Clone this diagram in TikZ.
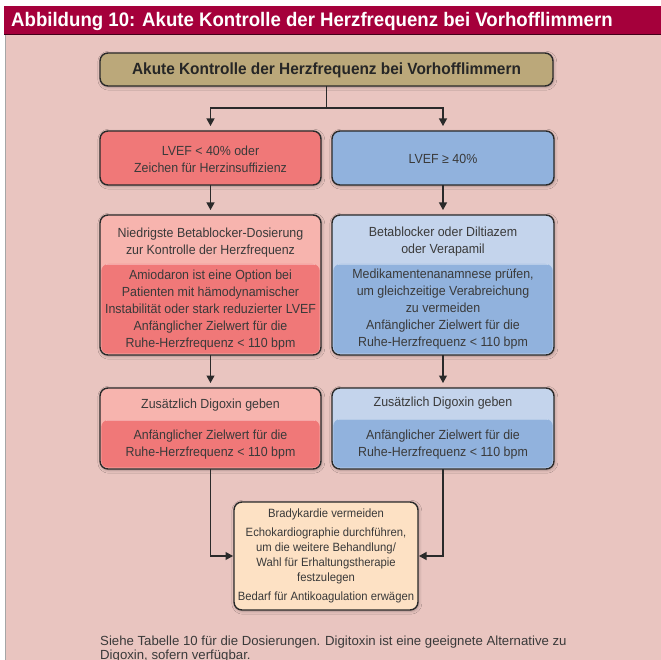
\documentclass[tikz,border=0pt]{standalone}
\usepackage{fontspec}
\setmainfont{Liberation Sans}
\newfontfamily\condfont{Liberation Sans}[FakeStretch=0.95]
\newfontfamily\bodyfont{Liberation Sans}[FakeStretch=0.94]
\usetikzlibrary{arrows.meta,shadows.blur}

\definecolor{barred}{HTML}{A5003B}
\definecolor{bgpink}{HTML}{E9C5C0}
\definecolor{tan}{HTML}{BBA87A}
\definecolor{redlight}{HTML}{F7B4AE}
\definecolor{reddark}{HTML}{F07878}
\definecolor{bluelight}{HTML}{C4D4EC}
\definecolor{bluedark}{HTML}{91B2DD}
\definecolor{peach}{HTML}{FDE1C4}
\definecolor{ink}{HTML}{3A3A3A}
\definecolor{edge}{HTML}{2A2A2A}

\tikzset{
  box/.style={draw=edge, line width=1.4pt, rounded corners=8pt, inner sep=0pt, outer sep=0pt,
    blur shadow={shadow xshift=0.8pt, shadow yshift=-1.2pt, shadow blur radius=3pt, shadow opacity=30}},
  txt/.style={text=ink, align=center, inner sep=0pt, font=\bodyfont\fontsize{13.2}{17}\selectfont},
  smalltxt/.style={text=ink, align=center, inner sep=0pt, font=\bodyfont\fontsize{12}{15}\selectfont},
  notetxt/.style={anchor=base west, text=ink, inner sep=0pt, font=\fontsize{13.2}{15}\selectfont},
  link/.style={draw=edge, line width=1.1pt},
  arrow/.style={link, -{Triangle[width=8pt,length=7.5pt]}, shorten >=5pt},
  sidearrow/.style={link, -{Triangle[width=8pt,length=7.5pt]}, shorten >=1pt},
  lower/.style={rounded corners=7pt}
}

% lower, darker part of a two-part box: from the split line down to the bottom
\newcommand{\lowerpart}[3]{%
  \fill[lower, #3] ([xshift=1.3pt]#1.west |- 0,#2) rectangle ([xshift=-1.3pt,yshift=1.3pt]#1.south east);
  \draw[white, opacity=0.35, line width=0.8pt] ([xshift=6pt]#1.west |- 0,#2) -- ([xshift=-6pt]#1.east |- 0,#2);
}

\begin{document}
\begin{tikzpicture}[x=1pt,y=-1pt]
\useasboundingbox (0,0) rectangle (661,660);

% page background and title bar
\fill[white] (0,0) rectangle (661,660);
\fill[bgpink] (5,35) rectangle (661,660);
\draw[gray!70, line width=1pt] (5,35) -- (5,660);
\fill[barred] (4,6) rectangle (661,35);
\draw[black!60!barred, line width=1pt] (4,35) -- (661,35);
\node[anchor=west, text=white, inner sep=0pt,
  font=\condfont\bfseries\fontsize{19.6}{21}\selectfont] (title) at (11,21)
  {Abbildung 10: Akute Kontrolle der Herzfrequenz bei Vorhofflimmern};

% top box
\node[box, fill=tan, minimum width=453pt, minimum height=33pt] (main) at (326.5,69.5) {};
\node[text=black!85, inner sep=0pt, font=\condfont\bfseries\fontsize{16.2}{18}\selectfont] (maintxt) at (326.5,70)
  {Akute Kontrolle der Herzfrequenz bei Vorhofflimmern};

% first row
\node[box, fill=reddark, minimum width=221pt, minimum height=54pt] (l1) at (210.5,158) {};
\node[txt] (l1txt) at (210.5,159.5) {LVEF < 40\% oder\\Zeichen für Herzinsuffizienz};
\node[box, fill=bluedark, minimum width=222pt, minimum height=54pt] (r1) at (443,158) {};
\node[txt] (r1txt) at (443,158.5) {LVEF ≥ 40\%};

% second row
\node[box, fill=redlight, minimum width=221pt, minimum height=140pt] (l2) at (210.5,285) {};
\lowerpart{l2}{264}{reddark}
\node[txt] (l2a) at (210.5,243) {Niedrigste Betablocker-Dosierung\\zur Kontrolle der Herzfrequenz};
\node[txt] (l2b) at (210.5,310) {Amiodaron ist eine Option bei\\Patienten mit hämodynamischer\\Instabilität oder stark reduzierter LVEF\\Anfänglicher Zielwert für die\\Ruhe-Herzfrequenz < 110 bpm};

\node[box, fill=bluelight, minimum width=222pt, minimum height=140pt] (r2) at (443,285) {};
\lowerpart{r2}{264}{bluedark}
\node[txt] (r2a) at (443,242) {Betablocker oder Diltiazem\\oder Verapamil};
\node[txt] (r2b) at (443,309) {Medikamentenanamnese prüfen,\\um gleichzeitige Verabreichung\\zu vermeiden\\Anfänglicher Zielwert für die\\Ruhe-Herzfrequenz < 110 bpm};

% third row
\node[box, fill=redlight, minimum width=221pt, minimum height=81pt] (l3) at (210.5,428.5) {};
\lowerpart{l3}{420}{reddark}
\node[txt] (l3a) at (210.5,405) {Zusätzlich Digoxin geben};
\node[txt] (l3b) at (210.5,445) {Anfänglicher Zielwert für die\\Ruhe-Herzfrequenz < 110 bpm};

\node[box, fill=bluelight, minimum width=222pt, minimum height=81pt] (r3) at (443,428.5) {};
\lowerpart{r3}{419}{bluedark}
\node[txt] (r3a) at (443,403) {Zusätzlich Digoxin geben};
\node[txt] (r3b) at (443,445) {Anfänglicher Zielwert für die\\Ruhe-Herzfrequenz < 110 bpm};

% final box
\node[box, fill=peach, minimum width=184pt, minimum height=108pt] (fin) at (326,556) {};
\node[smalltxt] (fina) at (326,514.5) {Bradykardie vermeiden};
\node[smalltxt] (finb) at (326,556) {Echokardiographie durchführen,\\um die weitere Behandlung/\\Wahl für Erhaltungstherapie\\festzulegen};
\node[smalltxt] (finc) at (326,597.5) {Bedarf für Antikoagulation erwägen};

% connectors
\coordinate (fork) at (326.5,108);
\draw[arrow] (main.south) -- (main.south |- fork) -| (l1.north);
\draw[arrow] (main.south |- fork) -| (r1.north);
\draw[arrow] (l1.south) -- (l2.north);
\draw[arrow] (r1.south) -- (r2.north);
\draw[arrow] (l2.south) -- (l3.north);
\draw[arrow] (r2.south) -- (r3.north);
\draw[sidearrow] (l3.south) |- (fin.west);
\draw[sidearrow] (r3.south) |- (fin.east);

% footnote
\node[notetxt] (note) at (100,645)
  {Siehe Tabelle 10 für die Dosierungen. Digitoxin ist eine geeignete Alternative zu};
\node[notetxt] (note2) at (100,659)
  {Digoxin, sofern verfügbar.};
\end{tikzpicture}
\end{document}
